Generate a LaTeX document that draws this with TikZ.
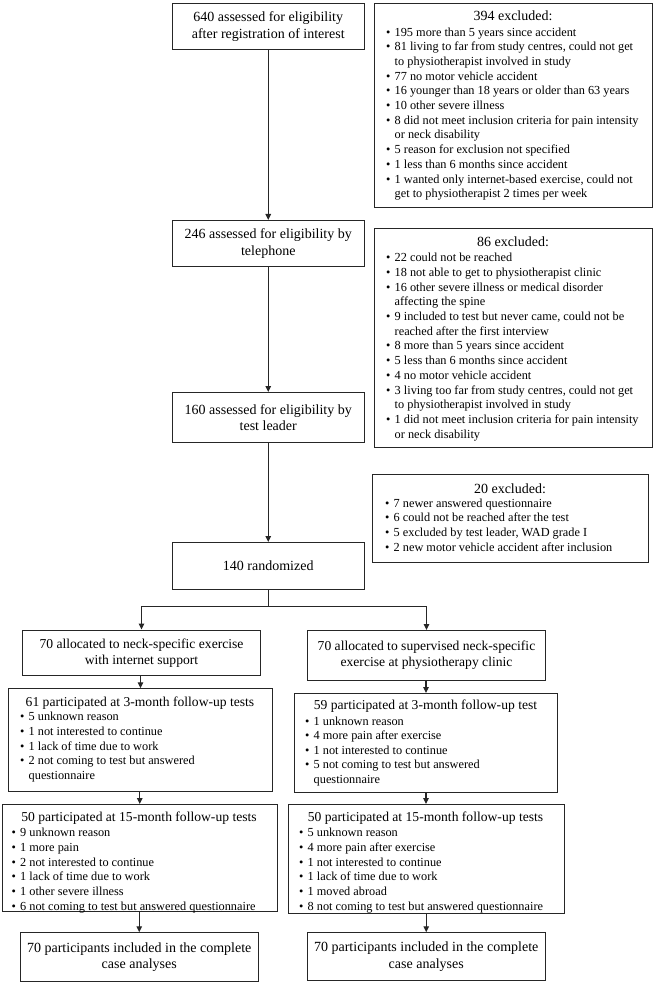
\documentclass[tikz,border=0pt]{standalone}
\usepackage{fontspec}
\setmainfont{Liberation Serif}
\usetikzlibrary{arrows.meta,calc}
\newcommand\bul{\makebox[8.5pt][l]{\textbullet}}
\newcommand\cnt{\hspace*{8.5pt}}
\begin{document}
\begin{tikzpicture}[x=1pt,y=-1pt,
  box/.style={draw=black!85, line width=1pt, inner sep=0pt, anchor=north west, align=center,
     font=\fontsize{14}{16.5}\selectfont},
  lst/.style={anchor=north west, inner sep=0pt, align=left, font=\fontsize{12.3}{14.7}\selectfont},
  ttl/.style={inner sep=0pt, align=center, font=\fontsize{14}{16.5}\selectfont},
  fttl/.style={inner sep=0pt, align=center, font=\fontsize{13.6}{16}\selectfont},
  arr/.style={draw=black!85, line width=1.1pt, -{Triangle[length=6pt,width=5.5pt]}},
  ln/.style={draw=black!85, line width=1.1pt}]
\useasboundingbox (0,0) rectangle (659,984);
\fill[white] (0,0) rectangle (659,984);

% main column
\node[box, minimum width=191.5pt, minimum height=46pt] (b1) at (172,3.3) {640 assessed for eligibility\\after registration of interest};
\node[box, minimum width=191.5pt, minimum height=46pt] (b2) at (172,220) {246 assessed for eligibility by\\telephone};
\node[box, minimum width=191.5pt, minimum height=50pt] (b3) at (172,392) {160 assessed for eligibility by\\test leader};
\node[box, minimum width=191.5pt, minimum height=46.5pt] (b140) at (172,542) {140 randomized};

% exclusion boxes
\node[box, minimum width=277.5pt, minimum height=204pt] (b394) at (374.3,3.3) {};
\node[ttl] (h394) at (513,16) {394 excluded:};
\node[lst] (l394) at (386,27.3) {\bul 195 more than 5 years since accident\\
\bul 81 living to far from study centres, could not get\\
\cnt to physiotherapist involved in study\\
\bul 77 no motor vehicle accident\\
\bul 16 younger than 18 years or older than 63 years\\
\bul 10 other severe illness\\
\bul 8 did not meet inclusion criteria for pain intensity\\
\cnt or neck disability\\
\bul 5 reason for exclusion not specified\\
\bul 1 less than 6 months since accident\\
\bul 1 wanted only internet-based exercise, could not\\
\cnt get to physiotherapist 2 times per week};

\node[box, minimum width=277.5pt, minimum height=219pt] (b86) at (374.3,228) {};
\node[ttl] (h86) at (513,242) {86 excluded:};
\node[lst] (l86) at (386,253) {\bul 22 could not be reached\\
\bul 18 not able to get to physiotherapist clinic\\
\bul 16 other severe illness or medical disorder\\
\cnt affecting the spine\\
\bul 9 included to test but never came, could not be\\
\cnt reached after the first interview\\
\bul 8 more than 5 years since accident\\
\bul 5 less than 6 months since accident\\
\bul 4 no motor vehicle accident\\
\bul 3 living too far from study centres, could not get\\
\cnt to physiotherapist involved in study\\
\bul 1 did not meet inclusion criteria for pain intensity\\
\cnt or neck disability};

\node[box, minimum width=276.5pt, minimum height=88pt] (b20) at (371.7,474) {};
\node[ttl] (h20) at (510,488.3) {20 excluded:};
\node[lst] (l20) at (385,498.3) {\bul 7 newer answered questionnaire\\
\bul 6 could not be reached after the test\\
\bul 5 excluded by test leader, WAD grade I\\
\bul 2 new motor vehicle accident after inclusion};

% allocation
\node[box, font=\fontsize{13.6}{16}\selectfont, minimum width=238pt, minimum height=45.5pt] (alL) at (22,629.5) {70 allocated to neck-specific exercise\\with internet support};
\node[box, font=\fontsize{13.6}{16}\selectfont, minimum width=238pt, minimum height=50pt] (alR) at (307,630) {70 allocated to supervised neck-specific\\exercise at physiotherapy clinic};

% 3-month
\node[box, minimum width=264pt, minimum height=102.5pt] (f3L) at (8,688.3) {};
\node[fttl] (hf3L) at (140,703) {61 participated at 3-month follow-up tests};
\node[lst] (lf3L) at (20,712) {\bul 5 unknown reason\\
\bul 1 not interested to continue\\
\bul 1 lack of time due to work\\
\bul 2 not coming to test but answered\\
\cnt questionnaire};

\node[box, minimum width=263pt, minimum height=99pt] (f3R) at (294,693) {};
\node[fttl] (hf3R) at (425.5,706.5) {59 participated at 3-month follow-up test};
\node[lst, font=\fontsize{12.3}{14.4}\selectfont] (lf3R) at (305,716.7) {\bul 1 unknown reason\\
\bul 4 more pain after exercise\\
\bul 1 not interested to continue\\
\bul 5 not coming to test but answered\\
\cnt questionnaire};

% 15-month
\node[box, minimum width=275.5pt, minimum height=107pt] (f15L) at (1.5,804) {};
\node[fttl] (hf15L) at (139,818) {50 participated at 15-month follow-up tests};
\node[lst] (lf15L) at (11.5,828) {\bul 9 unknown reason\\
\bul 1 more pain\\
\bul 2 not interested to continue\\
\bul 1 lack of time due to work\\
\bul 1 other severe illness\\
\bul 6 not coming to test but answered questionnaire};

\node[box, minimum width=276pt, minimum height=108.5pt] (f15R) at (287.5,804) {};
\node[fttl] (hf15R) at (425.5,818) {50 participated at 15-month follow-up tests};
\node[lst] (lf15R) at (299,828) {\bul 5 unknown reason\\
\bul 4 more pain after exercise\\
\bul 1 not interested to continue\\
\bul 1 lack of time due to work\\
\bul 1 moved abroad\\
\bul 8 not coming to test but answered questionnaire};

% final
\node[box, minimum width=238.5pt, minimum height=49pt] (finL) at (19.5,932.3) {70 participants included in the complete\\case analyses};
\node[box, minimum width=237.5pt, minimum height=48pt] (finR) at (307,932.3) {70 participants included in the complete\\case analyses};

% connectors
\draw[arr] (b1.south) -- (b2.north);
\draw[arr] (b2.south) -- (b3.north);
\draw[arr] (b3.south) -- (b140.north);
\coordinate (br) at ($(b140.south)+(0,17)$);
\draw[ln] (b140.south) -- (br);
\draw[arr] (br) -| (alL.north);
\draw[arr] (br) -| (alR.north);
\draw[arr] (f3L.north |- alL.south) -- (f3L.north);
\draw[arr] (f3R.north |- alR.south) -- (f3R.north);
\draw[arr] (f15L.north |- f3L.south) -- (f15L.north);
\draw[arr] (f15R.north |- f3R.south) -- (f15R.north);
\draw[arr] (finL.north |- f15L.south) -- (finL.north);
\draw[arr] (finR.north |- f15R.south) -- (finR.north);
\end{tikzpicture}
\end{document}
